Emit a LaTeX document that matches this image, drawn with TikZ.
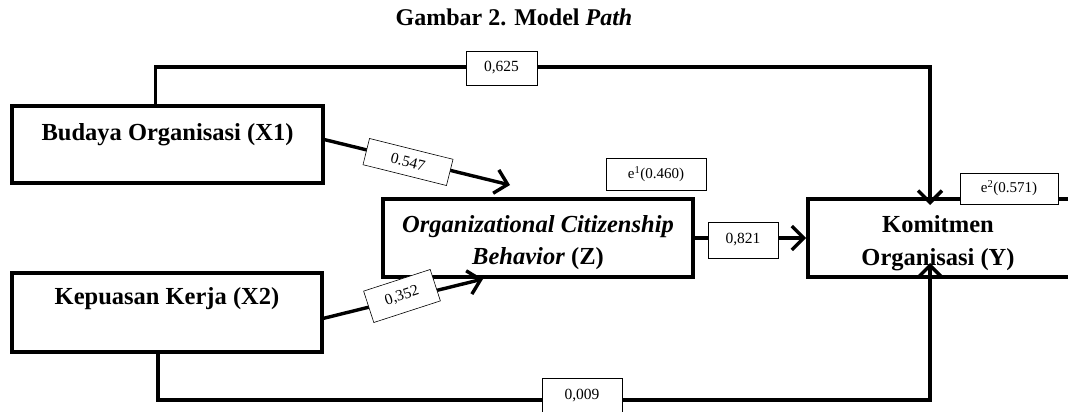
\documentclass[tikz,border=0pt]{standalone}
\usepackage{fontspec}
\setmainfont{Liberation Serif}
\usetikzlibrary{arrows.meta,calc}
\tikzset{
  bigbox/.style={draw, line width=3.6pt, inner sep=0pt},
  boxtxt/.style={font=\fontsize{24.5}{30}\selectfont\bfseries, anchor=base, inner sep=0pt},
  lab/.style={draw, line width=0.6pt, fill=white, inner sep=0pt, font=\fontsize{15.5}{18}\selectfont},
  conn/.style={line width=3.4pt, -{Straight Barb[length=12pt,width=24pt]}},
}
\begin{document}
\begin{tikzpicture}[x=1pt,y=-1pt]
\useasboundingbox (0,0) rectangle (1068,412);
% title
\node[font=\fontsize{24}{28}\selectfont\bfseries, anchor=base, inner sep=0pt] (title) at (514,26) {Gambar 2. Model \textit{Path}};
% boxes
\node[bigbox, minimum width=311pt, minimum height=77pt] (x1) at (167.5,144.5) {};
\node[boxtxt] (x1t) at (167.5,140) {Budaya Organisasi (X1)};
\node[bigbox, minimum width=310pt, minimum height=79pt] (x2) at (167,312.5) {};
\node[boxtxt] (x2t) at (167,304) {Kepuasan Kerja (X2)};
\node[bigbox, minimum width=310pt, minimum height=78pt] (z) at (538,238) {};
\node[boxtxt] (zt1) at (538,232) {\itshape Organizational Citizenship};
\node[boxtxt] (zt2) at (538,264) {\textit{Behavior} (Z)};
\node[bigbox, minimum width=272pt, minimum height=78pt] (y) at (944,238) {};
\node[boxtxt] (yt1) at (938,232) {Komitmen};
\node[boxtxt] (yt2) at (938,265) {Organisasi (Y)};
% free ends
\coordinate (topr) at (930,67);
\coordinate (ytip) at (930,205);
\coordinate (botr) at (930,400);
\coordinate (ybot) at (930,263);
\coordinate (z1) at (510,185);
\coordinate (z2) at (483,279);
% connectors
\draw[conn] ($(x1.north west)!0.461!(x1.north east)$) |- (topr) -- (ytip);
\draw[conn] ($(x2.south west)!0.471!(x2.south east)$) |- (botr) -- (ybot);
\draw[conn] ($(x1.north east)!0.44!(x1.south east)$) -- (z1);
\draw[conn] ($(x2.north east)!0.57!(x2.south east)$) -- (z2);
\draw[conn] (z) -- (y);
% labels
\node[lab, minimum width=71pt, minimum height=34pt] (l625) at (501.5,68) {0,625};
\node[lab, minimum width=80pt, minimum height=36pt] (l009) at (582,396) {0,009};
\node[lab, minimum width=86pt, minimum height=27pt, rotate=-14] (l547) at (408,162) {0.547};
\node[lab, minimum width=70pt, minimum height=33pt, rotate=18] (l352) at (402,296) {0,352};
\node[lab, minimum width=70pt, minimum height=36pt] (l821) at (743,240) {0,821};
\node[lab, minimum width=100pt, minimum height=32pt, font=\fontsize{15}{18}\selectfont] (e1) at (656,174) {e\textsuperscript{1}(0.460)};
\node[lab, minimum width=98pt, minimum height=31pt, font=\fontsize{15}{18}\selectfont] (e2) at (1009,188.5) {e\textsuperscript{2}(0.571)};
\end{tikzpicture}
\end{document}
